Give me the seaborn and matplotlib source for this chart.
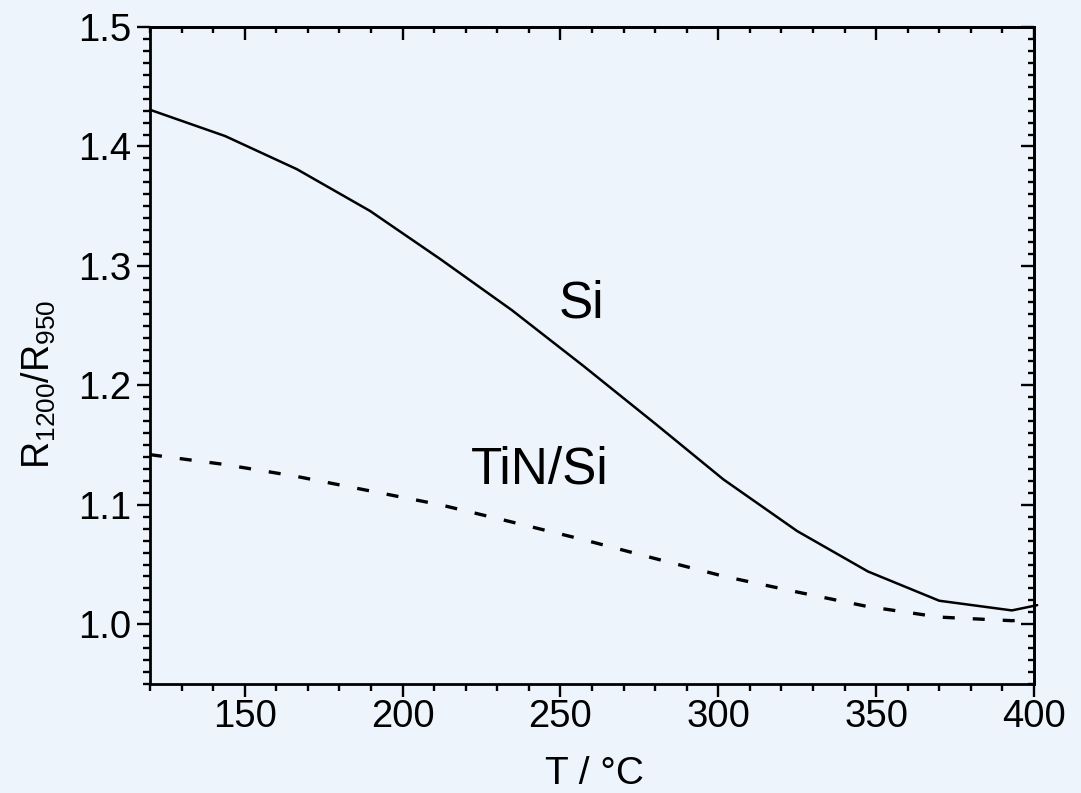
import matplotlib
matplotlib.use("Agg")
import matplotlib.pyplot as plt
import seaborn as sns
import pandas as pd
from matplotlib.ticker import MultipleLocator, FormatStrFormatter

# Data
temp_si = [120, 143.8, 166.5, 189.7, 211.9, 234.6, 257.4, 280.0, 301.6, 325.0, 347.4, 370.0, 393.0, 401.0]
ratio_si = [1.4307, 1.4087, 1.381, 1.346, 1.3058, 1.263, 1.216, 1.168, 1.1213, 1.078, 1.0442, 1.0197, 1.0116, 1.016]
temp_tin = [120, 143, 166, 189, 212, 234, 257, 280, 302, 325, 347, 370, 393, 399]
ratio_tin = [1.142, 1.134, 1.124, 1.112, 1.100, 1.086, 1.071, 1.055, 1.040, 1.027, 1.015, 1.006, 1.003, 1.004]

x_label = "T / °C"
y_label = r"$\mathregular{R_{1200}/R_{950}}$"
label_si = "Si"
label_tin = "TiN/Si"

bg = "#EDF4FC"
sns.set_theme(style="ticks")
plt.rcParams["font.family"] = ["Liberation Sans", "DejaVu Sans"]
plt.rcParams["mathtext.fontset"] = "custom"
plt.rcParams["mathtext.rm"] = "Liberation Sans"
for k in ["text.color", "axes.labelcolor", "xtick.color", "ytick.color", "axes.edgecolor"]:
    plt.rcParams[k] = "black"

fig = plt.figure(figsize=(10.81, 7.93), dpi=100, facecolor=bg)
ax = fig.add_axes([150 / 1081, 1 - 684 / 793, (1034 - 150) / 1081, (684 - 27) / 793])
ax.set_facecolor(bg)

df_si = pd.DataFrame({"T": temp_si, "R": ratio_si})
df_tin = pd.DataFrame({"T": temp_tin, "R": ratio_tin})
sns.lineplot(data=df_si, x="T", y="R", ax=ax, color="black", lw=1.8)
sns.lineplot(data=df_tin, x="T", y="R", ax=ax, color="black", lw=2.4)
for ln in ax.lines:
    ln.set_clip_on(False)
ax.lines[1].set_dashes((3.6, 5.4))

ax.set_xlim(120, 400)
ax.set_ylim(0.95, 1.5)
ax.xaxis.set_major_locator(MultipleLocator(50))
ax.xaxis.set_minor_locator(MultipleLocator(10))
ax.yaxis.set_major_locator(MultipleLocator(0.1))
ax.yaxis.set_minor_locator(MultipleLocator(0.01))
ax.yaxis.set_major_formatter(FormatStrFormatter("%.1f"))

for s in ax.spines.values():
    s.set_visible(True)
    s.set_linewidth(2.0)
    s.set_color("black")

ax.tick_params(axis="both", which="major", length=9.5, width=1.7, labelsize=27.5, color="black")
ax.tick_params(axis="both", which="minor", length=4.8, width=1.7, color="black")
ax.tick_params(axis="x", which="both", direction="out", bottom=True, top=False, pad=1)
ax.tick_params(axis="y", which="both", direction="out", left=True, right=False, pad=4)

# inward ticks on top and right via secondary axes
sec_x = ax.secondary_xaxis("top")
sec_x.xaxis.set_major_locator(MultipleLocator(50))
sec_x.xaxis.set_minor_locator(MultipleLocator(10))
sec_x.tick_params(axis="x", which="major", direction="in", length=9.5, width=1.7, labeltop=False)
sec_x.tick_params(axis="x", which="minor", direction="in", length=4.5, width=1.7)
sec_x.spines["top"].set_linewidth(2.0)
sec_y = ax.secondary_yaxis("right")
sec_y.yaxis.set_major_locator(MultipleLocator(0.1))
sec_y.yaxis.set_minor_locator(MultipleLocator(0.01))
sec_y.tick_params(axis="y", which="major", direction="in", length=9.5, width=1.7, labelright=False)
sec_y.tick_params(axis="y", which="minor", direction="in", length=4, width=1.7)
sec_y.spines["right"].set_linewidth(2.0)

ax.set_xlabel(x_label, fontsize=28)
ax.xaxis.set_label_coords(0.503, -0.1522)
ax.xaxis.label.set_va("baseline")

ax.set_ylabel(y_label, fontsize=27)
ylab = ax.yaxis.label
ylab.set_rotation_mode("default")
ylab.set_ha("center")
ylab.set_va("center")
ax.yaxis.set_label_coords(-0.126, 0.456)

ax.text(256.7, 1.268, label_si, fontsize=37, ha="center", va="center")
ax.text(243.5, 1.129, label_tin, fontsize=37, ha="center", va="center")

fig.savefig("out.png", dpi=100, facecolor=bg)
